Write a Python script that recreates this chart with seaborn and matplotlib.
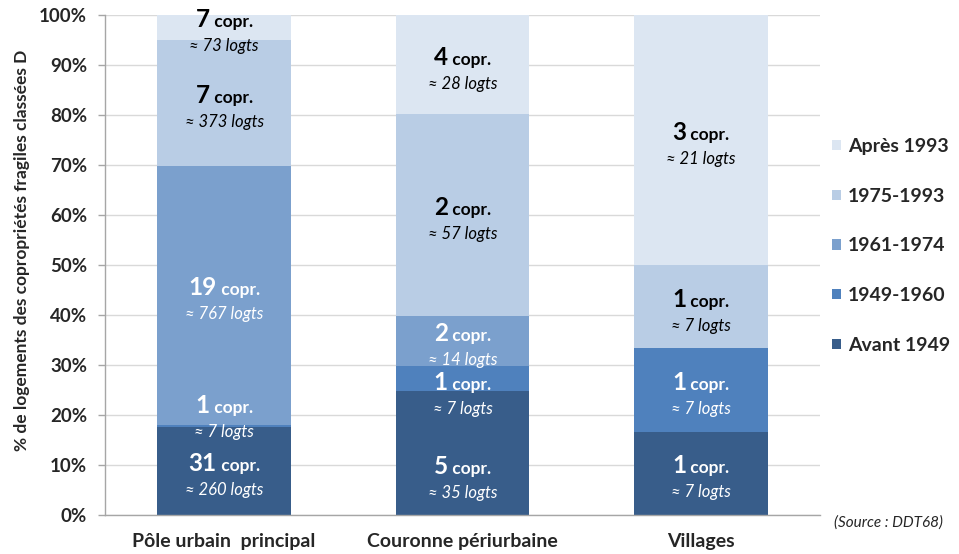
import numpy as np
import pandas as pd
import seaborn as sns
import matplotlib.pyplot as plt
from matplotlib.patches import Patch
from matplotlib.ticker import FixedLocator
from matplotlib.offsetbox import TextArea, HPacker, VPacker, AnnotationBbox

zones = ["Pôle urbain  principal", "Couronne périurbaine", "Villages"]
periodes = ["Avant 1949", "1949-1960", "1961-1974", "1975-1993", "Après 1993"]
couleurs = ["#385D8A", "#4F81BD", "#7BA0CD", "#B9CDE5", "#DCE6F2"]

# nombre de copropriétés fragiles par période
copr_pole = [31, 1, 19, 7, 7]
copr_couronne = [5, 1, 2, 2, 4]
copr_villages = [1, 1, 0, 1, 3]

# nombre de logements (approx.)
logts_pole = [260, 7, 767, 373, 73]
logts_couronne = [35, 7, 14, 57, 28]
logts_villages = [7, 7, 0, 7, 21]

rows = []
for zone, copr, logts in zip(zones, [copr_pole, copr_couronne, copr_villages],
                             [logts_pole, logts_couronne, logts_villages]):
    total = sum(logts)
    for p, c, l in zip(periodes, copr, logts):
        rows.append({"zone": zone, "periode": p, "copr": c, "logts": l, "pct": 100 * l / total})
df = pd.DataFrame(rows)

# décalage manuel de certaines étiquettes (en points de %)
decalage = {("Pôle urbain  principal", "1949-1960"): 1.8,
            ("Couronne périurbaine", "1949-1960"): -3.2,
            ("Couronne périurbaine", "Avant 1949"): -5.0}

sns.set_theme(style="white")
FONT = ["Lato", "DejaVu Sans"]
plt.rcParams["font.family"] = FONT

fig = plt.figure(figsize=(9.59, 5.54), dpi=100)
ax = fig.add_axes([0.1095, 0.0704, 0.7455, 0.9026])

bottoms = np.zeros(len(zones))
for i, p in enumerate(periodes):
    sub = df[df["periode"] == p].set_index("zone").loc[zones].reset_index()
    sns.barplot(data=sub, x="zone", y="pct", order=zones, color=couleurs[i],
                width=0.56, bottom=bottoms, edgecolor="none", linewidth=0,
                saturation=1, ax=ax)
    # étiquettes
    for j, zone in enumerate(zones):
        row = sub.iloc[j]
        if row["copr"] == 0:
            continue
        y = bottoms[j] + row["pct"] / 2 + decalage.get((zone, p), -0.8)
        col = "white" if i < 3 else "black"
        num = TextArea(str(int(row["copr"])),
                       textprops=dict(fontsize=17.5, fontweight="bold", color=col, family=FONT))
        cp = TextArea(" copr.",
                      textprops=dict(fontsize=12.5, fontweight="bold", color=col, family=FONT))
        l1 = HPacker(children=[num, cp], align="baseline", pad=0, sep=0)
        l2 = TextArea("≈ %d logts" % row["logts"],
                      textprops=dict(fontsize=12, style="italic", color=col, family=FONT))
        box = VPacker(children=[l1, l2], align="center", pad=0, sep=5)
        ab = AnnotationBbox(box, (j, y), frameon=False, box_alignment=(0.5, 0.5),
                            annotation_clip=False)
        ax.add_artist(ab)
    bottoms += sub["pct"].values

ax.set_xlim(-0.5, 2.5)
ax.set_ylim(0, 100)
ax.set_yticks(range(0, 101, 10))
ax.set_yticklabels(["%d%%" % v for v in range(0, 101, 10)], fontsize=13.5, fontweight="bold")
ax.set_xticks(range(len(zones)))
ax.set_xticklabels(zones, fontsize=14, fontweight="bold")
ax.xaxis.set_minor_locator(FixedLocator([-0.5, 0.5, 1.5, 2.5]))
ax.tick_params(axis="x", which="major", length=0, pad=13)
ax.tick_params(axis="x", which="minor", length=6, color="#A6A6A6", width=1)
ax.tick_params(axis="y", length=5, color="#A6A6A6", width=1, pad=8, left=True)
ax.grid(axis="y", color="#D9D9D9", linewidth=1)
ax.set_axisbelow(True)
for s in ["top", "right"]:
    ax.spines[s].set_visible(False)
for s in ["left", "bottom"]:
    ax.spines[s].set_color("#A6A6A6")
    ax.spines[s].set_linewidth(1)
ax.set_xlabel("")
ax.set_ylabel("% de logements des copropriétés fragiles classées D",
              fontsize=12.5, fontweight="bold")
ax.yaxis.set_label_coords(-0.105, 0.53)

handles = [Patch(facecolor=c, edgecolor="none", label=p) for p, c in zip(periodes, couleurs)]
fig.legend(handles=handles[::-1], loc="center left", bbox_to_anchor=(0.868, 0.556),
           frameon=False, prop=dict(weight="bold", size=14, family=FONT),
           handlelength=0.45, handleheight=0.45, handletextpad=0.35, labelspacing=1.68,
           borderpad=0, borderaxespad=0)

fig.text(0.926, 0.057, "(Source : DDT68)", fontsize=11, style="italic", ha="center", va="center")

fig.savefig("out.png", dpi=100)
